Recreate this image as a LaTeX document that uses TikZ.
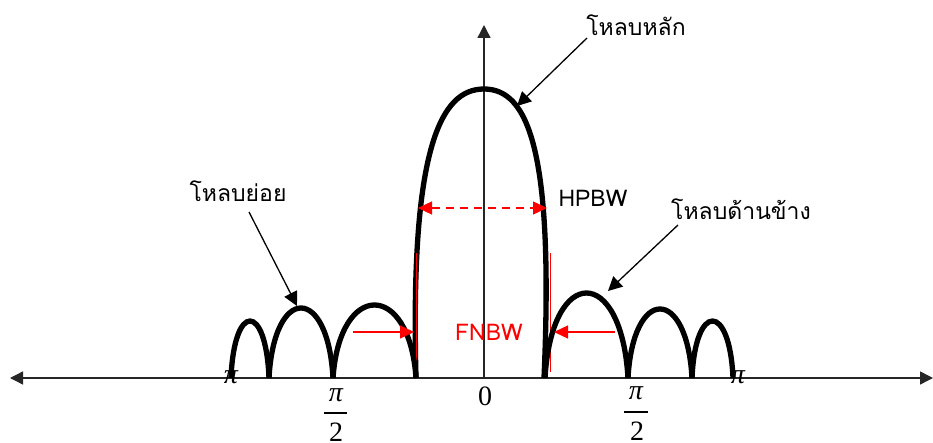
\documentclass[tikz,border=0pt]{standalone}
\usepackage{fontspec}
\setmainfont{Liberation Serif}
\newfontfamily\thai[Script=Thai]{Loma}
\usetikzlibrary{arrows.meta}
\tikzset{
  lobe/.style={line width=5.3pt, black},
  axisline/.style={line width=1.4pt, black!85},
  ax/.style={axisline, -{Triangle[length=13pt,width=13pt]}},
  pointer/.style={line width=1.3pt, black, -{Triangle[length=14pt,width=14pt]}},
  redarrow/.style={line width=1.3pt, red, -{Triangle[length=14pt,width=13pt]}},
  lbl/.style={font=\thai\fontsize{23}{26}\selectfont, inner sep=0pt},
  redlbl/.style={font=\thai\fontsize{23}{26}\selectfont, inner sep=0pt, text=red},
  numlbl/.style={font=\fontsize{28}{30}\selectfont, inner sep=0pt},
}
\newcommand{\archlobe}[3]{% a b h
  \pgfmathsetmacro{\lobectl}{378-(378-#3)/0.75}
  \pgfmathsetmacro{\lobeoff}{0.08*(#2-#1)}
  \draw[lobe] (#1,378) .. controls (#1+\lobeoff,\lobectl) and (#2-\lobeoff,\lobectl) .. (#2,378);
}
\begin{document}
\begin{tikzpicture}[x=1pt,y=-1pt]
\useasboundingbox (0,0) rectangle (933,443);
% axes
\coordinate (xl) at (10,378);
\coordinate (xr) at (933,378);
\coordinate (o) at (484,378);
\coordinate (yt) at (484,25);
\draw[ax] (o) -- (xl);
\draw[ax] (o) -- (xr);
\draw[ax] (o) -- (yt);
% main lobe
\draw[lobe] (416,378) .. controls (410,150) and (440,89) .. (484,89)
            .. controls (528,89) and (554,150) .. (544,378);
% red thin lines
\draw[red, line width=0.9pt] (416.5,253) -- (416.5,372);
\draw[red, line width=0.9pt] (550,253) -- (550,372);
% side lobes
\archlobe{231}{269}{321}
\archlobe{269}{333}{308}
\archlobe{333}{416}{305}
\archlobe{545}{628}{293}
\archlobe{628}{692}{309}
\archlobe{692}{733}{321}
% labels
\node[lbl] (main) at (636,25) {โหลบหลัก};
\node[lbl] (minor) at (238,191) {โหลบย่อย};
\node[lbl] (side) at (741,209) {โหลบด้านข้าง};
\node[lbl] (hpbw) at (593,198) {HPBW};
\node[redlbl] (fnbw) at (489,332) {FNBW};
\coordinate (mainpt) at (517,106);
\coordinate (minorpt) at (297,306);
\coordinate (sidept) at (608,291);
\draw[pointer] (587,38) -- (mainpt);
\draw[pointer] (249,212) -- (minorpt);
\draw[pointer] (678,225) -- (sidept);
% HPBW
\coordinate (hl) at (418,208);
\coordinate (hr) at (547,208);
\draw[red, line width=1.3pt, dash pattern=on 8pt off 6pt, {Triangle[length=14pt,width=13pt]}-{Triangle[length=14pt,width=13pt]}] (hl) -- (hr);
% FNBW arrows
\coordinate (fl0) at (353,332);
\coordinate (fl1) at (414,332);
\coordinate (fr0) at (615,332);
\coordinate (fr1) at (554,332);
\draw[redarrow] (fl0) -- (fl1);
\draw[redarrow] (fr0) -- (fr1);
% tick labels
\node[numlbl] (zero) at (485,396) {0};
\node[numlbl] (pil) at (231,377) {\itshape π};
\node[numlbl] (pir) at (738,377) {\itshape π};
\node[numlbl] (pim1) at (336,395) {\itshape π};
\draw[line width=1.5pt] (324,413) -- (347,413);
\node[numlbl] (two1) at (336,432) {2};
\node[numlbl] (pim2) at (636,393) {\itshape π};
\draw[line width=1.5pt] (624,412) -- (648,412);
\node[numlbl] (two2) at (637,431) {2};
\end{tikzpicture}
\end{document}
